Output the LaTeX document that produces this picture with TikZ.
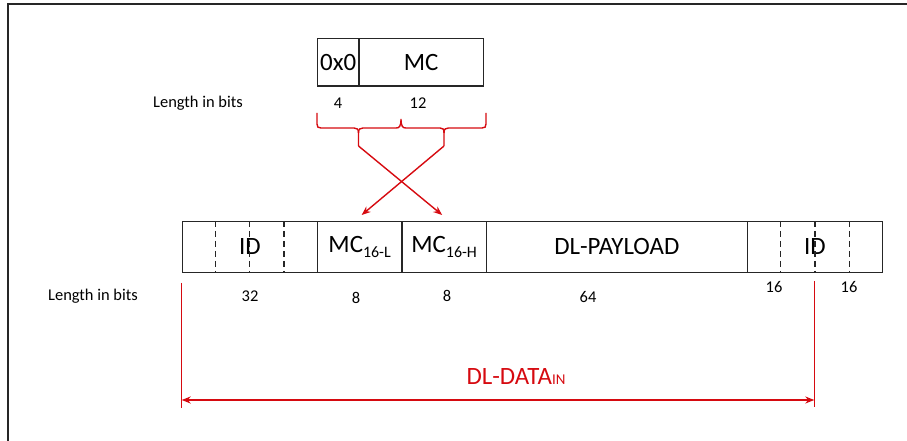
\documentclass[tikz,border=0pt]{standalone}
\usepackage{fontspec}
\setmainfont{Carlito}
\usetikzlibrary{arrows.meta,calc}
\definecolor{myred}{RGB}{214,10,16}
\begin{document}
\begin{tikzpicture}[x=1bp,y=-1bp,
  cell/.style={draw=black!85, line width=1.3bp, inner sep=0pt, anchor=north west, font=\fontsize{25}{28}\selectfont},
  lbl/.style={inner sep=0pt, font=\fontsize{16.5}{18}\selectfont},
  idash/.style={draw=black!85, line width=1.2bp, dash pattern=on 6bp off 4bp},
  redline/.style={draw=myred, line width=1.4bp},
  redarrow/.style={draw=myred, line width=1.4bp, -{Stealth[length=9bp,width=7bp]}}]
\useasboundingbox (0,0) rectangle (907,441);
% outer frame
\draw[line width=2bp, black!85] (8,441) -- (8,4.5) -- (907,4.5);
% top box
\node[cell, minimum width=41.6bp, minimum height=47.6bp] (zero) at (316.7,37.7) {0x0};
\node[cell, minimum width=124.4bp, minimum height=47.6bp] (mc) at (358.3,37.7) {MC};
\node[lbl] (len1) at (198,103) {Length in bits};
\node[lbl] (b4) at (338,103) {4};
\node[lbl] (b12) at (418,103) {12};
% main row
\node[cell, minimum width=135bp, minimum height=50.7bp] (id1) at (181.7,221) {ID};
\node[cell, minimum width=84.6bp, minimum height=50.7bp] (mcl) at (316.7,221) {MC\raisebox{-5bp}{\fontsize{16}{16}\selectfont 16-L}};
\node[cell, minimum width=84.4bp, minimum height=50.7bp] (mch) at (401.3,221) {MC\raisebox{-5bp}{\fontsize{16}{16}\selectfont 16-H}};
\node[cell, minimum width=261bp, minimum height=50.7bp] (pay) at (485.7,221) {DL-PAYLOAD};
\node[cell, minimum width=135.3bp, minimum height=50.7bp] (id2) at (746.7,221) {ID};
\foreach \n in {id1,id2}{
  \foreach \f in {0.25,0.5,0.75}{
    \draw[idash] ($(\n.north west)!\f!(\n.north east)$) -- ($(\n.south west)!\f!(\n.south east)$);
  }
}
% bit lengths
\node[lbl] (len2) at (93,296) {Length in bits};
\node[lbl] (b32) at (250,296) {32};
\node[lbl] (b8a) at (356,298) {8};
\node[lbl] (b8b) at (447,296) {8};
\node[lbl] (b64) at (588,297) {64};
\node[lbl] (b16a) at (774,287) {16};
\node[lbl] (b16b) at (849,287) {16};
% braces
\coordinate (tipL) at (358.5,146);
\coordinate (tipR) at (444,146);
\draw[redline] (317,113) -- (317,124) .. controls (317,127) and (318,128) .. (321,128)
  -- (354,128) .. controls (357,128) and (358.5,129) .. (358.5,133) -- (tipL);
\draw[redline] (358.5,133) .. controls (358.5,129) and (360,128) .. (363,128)
  -- (396,128) .. controls (399,128) and (401,127) .. (401,119)
  .. controls (401,127) and (403,128) .. (406,128)
  -- (440,128) .. controls (443,128) and (444,129) .. (444,133) -- (tipR);
\draw[redline] (444,133) .. controls (444,129) and (445.5,128) .. (448.5,128)
  -- (482,128) .. controls (485,128) and (486,127) .. (486,124) -- (486,113);
% crossing arrows
\draw[redarrow] (tipL) -- ([xshift=-2bp,yshift=6bp]mch.north);
\draw[redarrow] (tipR) -- ([xshift=2bp,yshift=6bp]mcl.north);
% DL-DATA_IN span
\coordinate (lt) at (181.7,283);
\coordinate (lb) at (181.7,408);
\coordinate (rt) at (814.3,281);
\coordinate (rb) at (814.3,407);
\coordinate (al) at (181.7,400);
\coordinate (ar) at (814.3,400);
\draw[redline] (lt) -- (lb);
\draw[redline] (rt) -- (rb);
\draw[redline, {Stealth[length=9bp,width=7bp]}-{Stealth[length=9bp,width=7bp]}] (al) -- (ar);
\node[inner sep=0pt, text=myred, font=\fontsize{25}{28}\selectfont] (dldata) at (516,377) {DL-DATA{\fontsize{15}{15}\selectfont IN}};
\end{tikzpicture}
\end{document}
